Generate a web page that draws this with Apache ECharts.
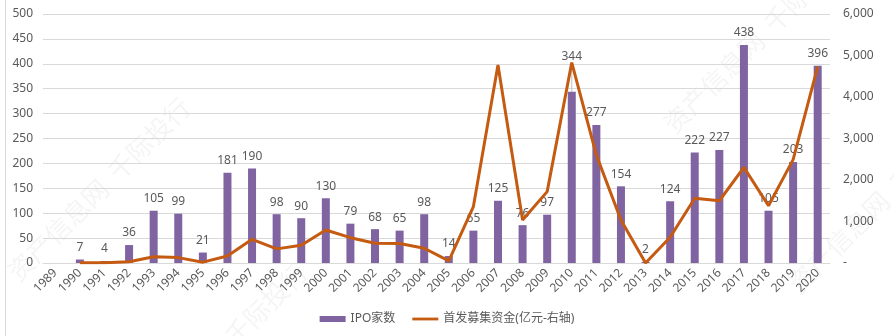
<!DOCTYPE html>
<html>
<head>
<meta charset="utf-8">
<script src="https://cdn.jsdelivr.net/npm/echarts@6/dist/echarts.min.js"></script>
<style>
  html, body { margin: 0; padding: 0; background: #fff; }
  #chart { width: 894px; height: 336px; }
</style>
</head>
<body>
<div id="chart"></div>
<script>
// A股历年IPO家数与首发募集资金
const years = ['1989','1990','1991','1992','1993','1994','1995','1996','1997','1998','1999','2000',
  '2001','2002','2003','2004','2005','2006','2007','2008','2009','2010','2011','2012','2013','2014',
  '2015','2016','2017','2018','2019','2020'];

// IPO家数（左轴）
const ipoCount = [null, 7, 4, 36, 105, 99, 21, 181, 190, 98, 90, 130,
  79, 68, 65, 98, 14, 65, 125, 76, 97, 344, 277, 154, 2, 124,
  222, 227, 438, 105, 203, 396];

// 首发募集资金，亿元（右轴）
const ipoFunds = [null, 5, 5, 30, 150, 130, 20, 170, 570, 340, 430, 795,
  610, 475, 470, 355, 50, 1360, 4770, 1035, 1720, 4830, 2600, 1035, 0, 620,
  1560, 1500, 2305, 1380, 2490, 4730];

const leftTicks = { min: 0, max: 500, interval: 50 };
const rightTicks = { min: 0, max: 6000, interval: 1000 };

const FONT = "'Noto Sans', 'Noto Sans CJK SC', sans-serif";
const TXT = '#595959';
const LIFTED = 21; // 2010 的数据标签上移并带引导线

const chart = echarts.init(document.getElementById('chart'));

// 背景水印
const wmStyle = { text: '资产信息网  千际投行', font: '26px "Noto Sans CJK SC"', fill: 'rgba(0,0,0,0.045)' };
const watermarks = [
  [12, 276], [668, 128], [793, 288], [129, 441]
].map(p => ({
  type: 'text', x: p[0], y: p[1], rotation: Math.PI / 4, z: -10, silent: true,
  style: Object.assign({ textAlign: 'left', textVerticalAlign: 'middle' }, wmStyle)
}));

const barData = ipoCount.map((v, i) => i === LIFTED
  ? { value: v, labelLine: { show: true, lineStyle: { color: '#bfbfbf', width: 1 } } }
  : v);

chart.setOption({
  animation: false,
  textStyle: { fontFamily: FONT },
  graphic: [
    { type: 'line', shape: { x1: 5.5, y1: 0, x2: 5.5, y2: 336 }, style: { stroke: '#d9d9d9', lineWidth: 1 }, silent: true }
  ].concat(watermarks),
  grid: { left: 43, right: 64, top: 14, bottom: 73 },
  legend: {
    bottom: 6,
    left: 'center',
    itemGap: 17,
    textStyle: { color: TXT, fontSize: 12, fontFamily: FONT },
    data: [
      { name: 'IPO家数', icon: 'rect', itemStyle: { color: '#8064A2' } },
      { name: '首发募集资金(亿元-右轴)', icon: 'path://M0 0H28V3H0Z', itemStyle: { color: '#C55A11' } }
    ],
    itemWidth: 26,
    itemHeight: 6
  },
  xAxis: {
    type: 'category',
    data: years,
    axisLine: { lineStyle: { color: '#d9d9d9' } },
    axisTick: { show: false },
    axisLabel: { color: TXT, fontSize: 12, rotate: 45, margin: 8, interval: 0 }
  },
  yAxis: [
    {
      type: 'value',
      min: leftTicks.min, max: leftTicks.max, interval: leftTicks.interval,
      axisLine: { show: false },
      axisTick: { show: false },
      axisLabel: { color: TXT, fontSize: 12, margin: 10 },
      splitLine: { lineStyle: { color: '#d9d9d9', width: 1 } }
    },
    {
      type: 'value',
      min: rightTicks.min, max: rightTicks.max, interval: rightTicks.interval,
      position: 'right',
      axisLine: { show: false },
      axisTick: { show: false },
      splitLine: { show: false },
      axisLabel: {
        color: TXT, fontSize: 12, margin: 13,
        formatter: v => v === 0 ? '-' : v.toLocaleString('en-US')
      }
    }
  ],
  series: [
    {
      name: 'IPO家数',
      type: 'bar',
      yAxisIndex: 0,
      barWidth: 8,
      itemStyle: { color: '#8064A2' },
      label: { show: true, position: 'top', distance: 6, color: TXT, fontSize: 12 },
      labelLine: { show: false },
      labelLayout: function (params) {
        if (params.dataIndex === LIFTED) return { dy: -23 };
        return {};
      },
      data: barData
    },
    {
      name: '首发募集资金(亿元-右轴)',
      type: 'line',
      yAxisIndex: 1,
      symbol: 'none',
      lineStyle: { color: '#C55A11', width: 3 },
      itemStyle: { color: '#C55A11' },
      z: 3,
      data: ipoFunds
    }
  ]
});
</script>
</body>
</html>
